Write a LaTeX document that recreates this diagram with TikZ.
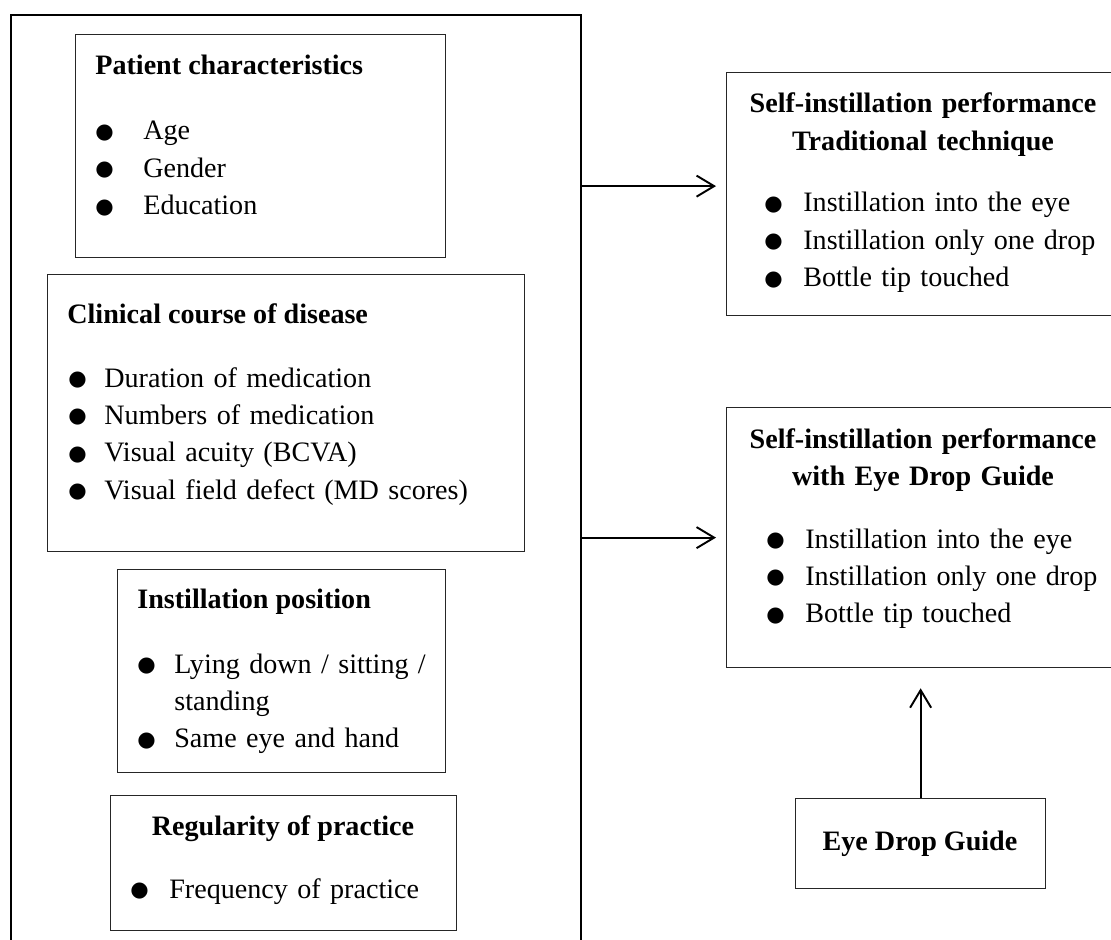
\documentclass[tikz,border=0pt]{standalone}
\usepackage{fontspec}
\setmainfont{Liberation Serif}
\newfontfamily\symfont{DejaVu Sans}
\usepackage{tikz}
\usetikzlibrary{arrows.meta,positioning,calc}

\newcommand{\dotitem}[2][0.74cm]{\makebox[#1][l]{\raisebox{0.03cm}{\fontsize{12pt}{12pt}\selectfont\symfont ●}}#2}

\begin{document}
\begin{tikzpicture}[x=0.02cm,y=-0.02cm,
  every node/.style={font=\fontsize{16pt}{21.3pt}\selectfont},
  frame/.style={draw,line width=1.2pt,inner sep=0pt,anchor=north west},
  box/.style={draw=black!85,line width=0.75pt,inner sep=0pt,anchor=north west},
  head/.style={font=\fontsize{16pt}{21.3pt}\selectfont\bfseries,inner sep=0pt},
  list/.style={inner sep=0pt,anchor=base west,text width=8cm,align=left},
  arr/.style={-{Straight Barb[length=10pt,width=12pt]},line width=1.1pt}]
\useasboundingbox (0,0) rectangle (1111,939);

% left block
\node[frame,minimum width=11.4cm,minimum height=18.92cm] (factors) at (10,14) {};
\node[box,minimum width=7.4cm,minimum height=4.46cm] (patient) at (75,34) {};
\node[box,minimum width=9.54cm,minimum height=5.54cm] (clinical) at (47,274) {};
\node[box,minimum width=6.56cm,minimum height=4.06cm] (position) at (117,569) {};
\node[box,minimum width=6.92cm,minimum height=2.7cm] (practice) at (110,795) {};

\node[head,anchor=base west] (patient-head) at (95,75) {Patient characteristics};
\node[list] (patient-list) at (95,140) {\dotitem[0.96cm]{Age}\\ \dotitem[0.96cm]{Gender}\\ \dotitem[0.96cm]{Education}};

\node[head,anchor=base west] (clinical-head) at (67,323) {Clinical course of disease};
\node[list] (clinical-list) at (68,387) {\dotitem[0.72cm]{Duration of medication}\\ \dotitem[0.72cm]{Numbers of medication}\\
  \dotitem[0.72cm]{Visual acuity (BCVA)}\\ \dotitem[0.72cm]{Visual field defect (MD scores)}};

\node[head,anchor=base west] (position-head) at (137,608) {Instillation position};
\node[list] (position-list) at (137,673) {\dotitem{Lying down / sitting /}\\ \hspace*{0.74cm}standing\\ \dotitem{Same eye and hand}};

\node[head,anchor=base] (practice-head) at (283,835) {Regularity of practice};
\node[list] (practice-list) at (130,898) {\dotitem[0.78cm]{Frequency of practice}};

% outcomes
\node[box,minimum width=7.88cm,minimum height=4.86cm] (perf1) at (726,72) {};
\node[box,minimum width=7.88cm,minimum height=5.2cm] (perf2) at (726,407) {};
\node[box,minimum width=5cm,minimum height=1.8cm] (guide) at (795,798) {};

\node[head,anchor=base,text width=7.88cm,align=center] (perf1-head) at (923,113) {Self-instillation performance\\ Traditional technique};
\node[list] (perf1-list) at (764,212) {\dotitem[0.78cm]{Instillation into the eye}\\ \dotitem[0.78cm]{Instillation only one drop}\\
  \dotitem[0.78cm]{Bottle tip touched}};

\node[head,anchor=base,text width=7.88cm,align=center] (perf2-head) at (923,448) {Self-instillation performance\\ with Eye Drop Guide};
\node[list] (perf2-list) at (766,548) {\dotitem[0.78cm]{Instillation into the eye}\\ \dotitem[0.78cm]{Instillation only one drop}\\
  \dotitem[0.78cm]{Bottle tip touched}};

\node[head,anchor=base] (guide-text) at (920,850) {Eye Drop Guide};

\draw[arr] ([yshift=0.16cm]perf1.west -| factors.east) -- ([yshift=0.16cm,xshift=-0.2cm]perf1.west);
\draw[arr] (perf2.west -| factors.east) -- ([xshift=-0.2cm]perf2.west);
\draw[arr] (guide.north) -- ([yshift=-0.4cm]perf2.south -| guide.north);
\end{tikzpicture}
\end{document}
